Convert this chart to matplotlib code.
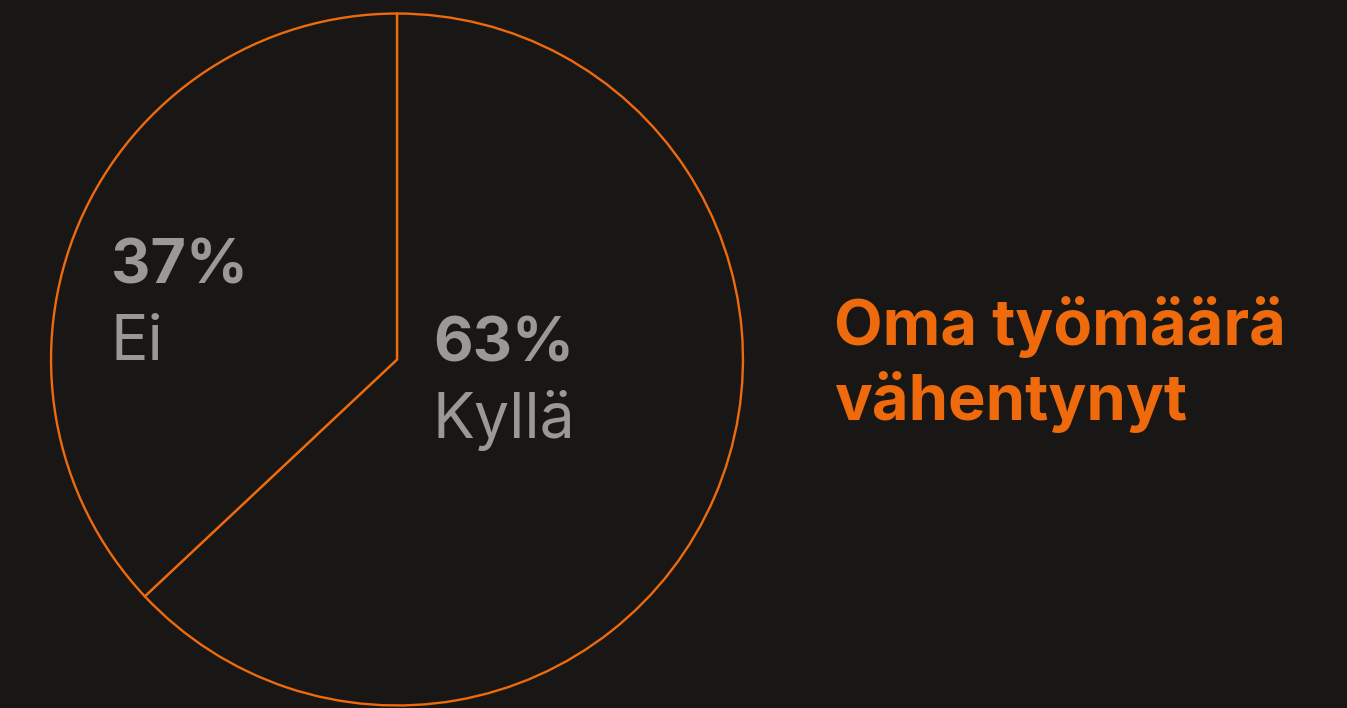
import matplotlib
matplotlib.use("Agg")
import matplotlib.pyplot as plt

# data
labels = ["Kyllä", "Ei"]
values = [63, 37]
title_lines = ["Oma työmäärä", "vähentynyt"]

bg = "#181716"
orange = "#ee6a0c"
grey = "#9b9897"

W, H = 1347, 708
fig = plt.figure(figsize=(W / 100, H / 100), dpi=100, facecolor=bg)
plt.rcParams["font.family"] = ["Inter", "DejaVu Sans"]

# pie axes: centre (397, 359.5), radius ~347 px
cx, cy, r = 397, 359.5, 347
ax = fig.add_axes([(cx - r) / W, (H - cy - r) / H, 2 * r / W, 2 * r / H])
ax.set_facecolor(bg)
ax.pie(values, startangle=90, counterclock=False, radius=1,
       wedgeprops=dict(facecolor=bg, edgecolor=orange, linewidth=1.7))
ax.set_xlim(-1.003, 1.003)
ax.set_ylim(-1.003, 1.003)
ax.set_aspect("equal")
ax.axis("off")

def px(x, y):
    return x / W, 1 - y / H

# labels (pixel positions of baselines)
pos = {"Kyllä": (433, 362, 438), "Ei": (111, 284, 360)}
for lab, v in zip(labels, values):
    x, yb1, yb2 = pos[lab]
    fig.text(*px(x, yb1), f"{v}%", color=grey, fontsize=44, fontweight="bold",
             va="baseline", ha="left")
    fig.text(*px(x, yb2), lab, color=grey, fontsize=45, va="baseline", ha="left")

# title
for i, line in enumerate(title_lines):
    fig.text(*px(834, 345 + 75 * i), line, color=orange, fontsize=45.5,
             fontweight="bold", va="baseline", ha="left")

fig.savefig("out.png", dpi=100, facecolor=bg)
